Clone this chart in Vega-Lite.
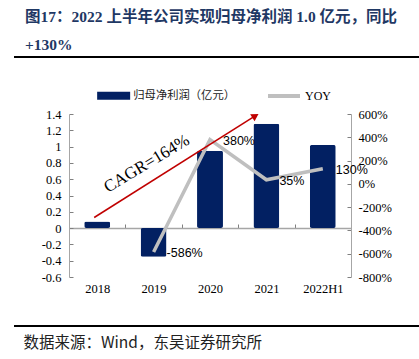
{
  "$schema": "https://vega.github.io/schema/vega-lite/v6.json",
  "width": 282,
  "height": 163,
  "autosize": {"type": "none"},
  "padding": {"left": 69, "top": 114, "right": 68, "bottom": 82},
  "background": "white",
  "config": {
    "view": {"stroke": null},
    "font": "Liberation Serif"
  },
  "title": {
    "text": ["图17：2022 上半年公司实现归母净利润 1.0 亿元，同比", "+130%"],
    "font": "Liberation Serif, Noto Sans CJK SC",
    "fontSize": 15.5,
    "fontWeight": "bold",
    "color": "#1F3864",
    "anchor": "start",
    "frame": "bounds",
    "lineHeight": 28,
    "baseline": "middle",
    "dx": 12,
    "offset": -5
  },
  "datasets": {
    "main": [
      {"year": "2018", "profit": 0.08, "yoy": null},
      {"year": "2019", "profit": -0.35, "yoy": -586},
      {"year": "2020", "profit": 0.95, "yoy": 380},
      {"year": "2021", "profit": 1.28, "yoy": 35},
      {"year": "2022H1", "profit": 1.02, "yoy": 130}
    ],
    "arrow": [
      {"from": "2018", "to": "2021", "v1": 0.13, "v2": 1.37}
    ],
    "cagr": [
      {"year": "2019", "v": 0.84, "label": "CAGR=164%"}
    ],
    "decor": [
      {"x1": -0.195, "x2": 1.245, "y": 2.10},
      {"x1": -0.195, "x2": 1.245, "y": -1.20}
    ]
  },
  "resolve": {"scale": {"x": "independent", "y": "independent", "color": "independent"}, "axis": {"x": "independent", "y": "independent"}},
  "layer": [
    {
      "data": {"name": "main"},
      "mark": {"type": "bar", "width": {"band": 0.46}, "cornerRadius": 2, "color": "#022062"},
      "encoding": {
        "x": {
          "field": "year", "type": "nominal", "sort": null,
          "scale": {"domain": ["2018", "2019", "2020", "2021", "2022H1"], "paddingInner": 0, "paddingOuter": 0},
          "axis": {
            "orient": "bottom", "offset": -49, "labelAngle": 0,
            "domainColor": "#A6A6A6", "domainWidth": 1.5,
            "tickColor": "#808080", "tickSize": -4, "tickBand": "extent",
            "labelPadding": 58, "labelFontSize": 12.5, "labelColor": "#000000", "labelFont": "Liberation Serif",
            "title": "数据来源：Wind，东吴证券研究所",
            "titleFont": "Noto Sans CJK SC", "titleFontSize": 15.5, "titleFontWeight": "normal", "titleColor": "#222222",
            "titleAnchor": "start", "titleAlign": "left", "titleBaseline": "middle",
            "titleX": -46, "titleY": 114
          }
        },
        "y": {
          "field": "profit", "type": "quantitative",
          "scale": {"domain": [-0.6, 1.4], "nice": false, "zero": false},
          "axis": {
            "orient": "left", "values": [-0.6, -0.4, -0.2, 0, 0.2, 0.4, 0.6, 0.8, 1, 1.2, 1.4],
            "labelExpr": "'' + datum.value", "grid": false, "title": null,
            "domainColor": "#A6A6A6", "tickColor": "#808080", "tickSize": -4,
            "labelPadding": 12, "labelFontSize": 12.5, "labelColor": "#000000", "labelFont": "Liberation Serif"
          }
        },
        "color": {
          "datum": "归母净利润（亿元）", "type": "nominal",
          "scale": {"range": ["#022062"]},
          "legend": {
            "orient": "none", "legendX": 39, "legendY": -24, "title": null,
            "symbolType": "M-3.3,-0.8H3.3V0.8H-3.3Z", "symbolStrokeWidth": 0,
            "labelFont": "Noto Sans CJK SC", "labelFontSize": 11.3, "labelColor": "#222222", "labelOffset": 14
          }
        }
      }
    },
    {
      "data": {"name": "main"},
      "layer": [
        {
          "mark": {"type": "line", "strokeWidth": 3.5, "color": "#BFBFBF"},
          "encoding": {
            "color": {
              "datum": "YOY", "type": "nominal",
              "scale": {"range": ["#BFBFBF"]},
              "legend": {
                "orient": "none", "legendX": 208, "legendY": -25, "title": null,
                "symbolType": "M-3.2,0H3.2", "symbolStrokeWidth": 4,
                "labelFont": "Liberation Serif", "labelFontSize": 12, "labelColor": "#000000", "labelOffset": 14
              }
            }
          }
        },
        {
          "transform": [{"filter": "datum.yoy != null"}, {"calculate": "datum.yoy + '%'", "as": "lbl"}],
          "mark": {"type": "text", "align": "left", "baseline": "middle", "dx": 13, "dy": 1, "font": "Liberation Sans", "fontSize": 12.5, "color": "#000000"},
          "encoding": {"text": {"field": "lbl"}}
        }
      ],
      "encoding": {
        "x": {
          "field": "year", "type": "nominal", "sort": null,
          "scale": {"domain": ["2018", "2019", "2020", "2021", "2022H1"], "paddingInner": 0, "paddingOuter": 0},
          "axis": null
        },
        "y": {
          "field": "yoy", "type": "quantitative",
          "scale": {"domain": [-800, 600], "nice": false, "zero": false},
          "axis": {
            "orient": "right", "values": [-800, -600, -400, -200, 0, 200, 400, 600],
            "labelExpr": "datum.value + '%'", "grid": false, "title": null,
            "domainColor": "#A6A6A6", "tickColor": "#808080", "tickSize": -4,
            "labelPadding": 11, "labelFontSize": 12.5, "labelColor": "#000000", "labelFont": "Liberation Serif"
          }
        }
      }
    },
    {
      "data": {"name": "arrow"},
      "layer": [
        {
          "mark": {"type": "rule", "color": "#C00000", "strokeWidth": 1.5, "xOffset": -3, "x2Offset": -12},
          "encoding": {
            "x": {
              "field": "from", "type": "nominal",
              "scale": {"domain": ["2018", "2019", "2020", "2021", "2022H1"], "paddingInner": 0, "paddingOuter": 0},
              "axis": null
            },
            "x2": {"field": "to"},
            "y": {"field": "v1", "type": "quantitative", "scale": {"domain": [-0.6, 1.4], "nice": false, "zero": false}, "axis": null},
            "y2": {"field": "v2"}
          }
        },
        {
          "mark": {"type": "point", "shape": "triangle", "filled": true, "color": "#C00000", "size": 70, "angle": 58, "opacity": 1, "xOffset": -12},
          "encoding": {
            "x": {
              "field": "to", "type": "nominal",
              "scale": {"domain": ["2018", "2019", "2020", "2021", "2022H1"], "paddingInner": 0, "paddingOuter": 0},
              "axis": null
            },
            "y": {"field": "v2", "type": "quantitative", "scale": {"domain": [-0.6, 1.4], "nice": false, "zero": false}, "axis": null}
          }
        }
      ],
      "resolve": {"scale": {"x": "shared", "y": "shared"}}
    },
    {
      "data": {"name": "cagr"},
      "mark": {"type": "text", "angle": -31, "align": "center", "baseline": "middle", "font": "Liberation Serif", "fontSize": 17, "color": "#000000", "dx": -8},
      "encoding": {
        "x": {
          "field": "year", "type": "nominal",
          "scale": {"domain": ["2018", "2019", "2020", "2021", "2022H1"], "paddingInner": 0, "paddingOuter": 0},
          "axis": null
        },
        "y": {
          "field": "v", "type": "quantitative",
          "scale": {"domain": [-0.6, 1.4], "nice": false, "zero": false},
          "axis": null
        },
        "text": {"field": "label"}
      }
    },
    {
      "data": {"name": "decor"},
      "mark": {"type": "rule", "color": "#000000", "strokeWidth": 2},
      "encoding": {
        "x": {"field": "x1", "type": "quantitative", "scale": {"domain": [0, 1], "nice": false, "zero": false}, "axis": null},
        "x2": {"field": "x2"},
        "y": {"field": "y", "type": "quantitative", "scale": {"domain": [-0.6, 1.4], "nice": false, "zero": false}, "axis": null}
      }
    }
  ]
}
